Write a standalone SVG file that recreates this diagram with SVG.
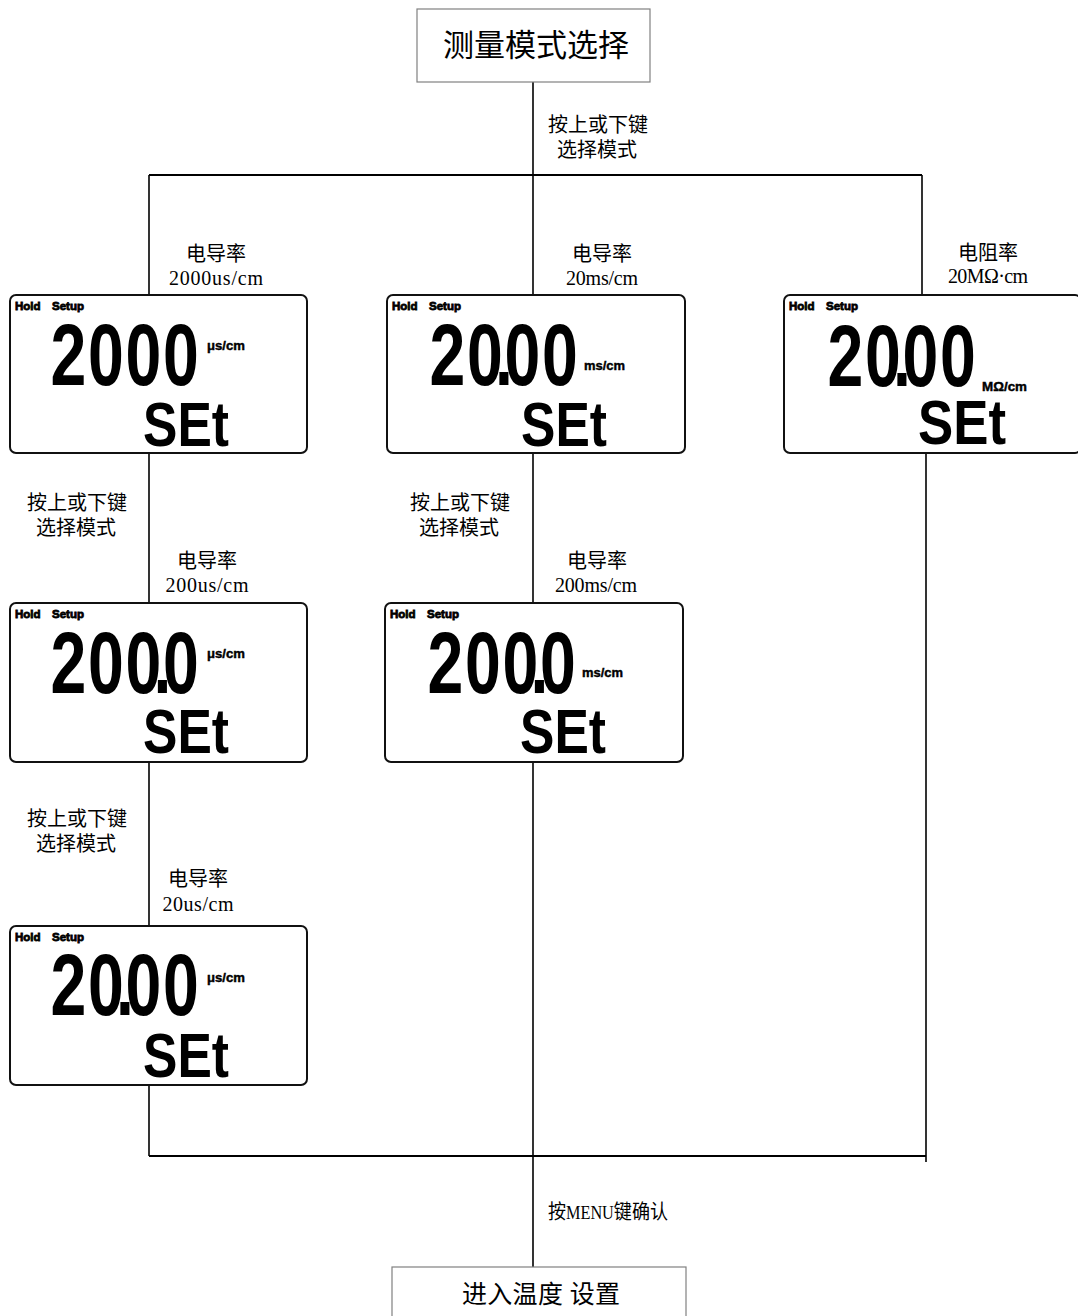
<svg xmlns="http://www.w3.org/2000/svg" width="1078" height="1316" viewBox="0 0 1078 1316">
<style>
.bg{fill:#fff}
.plain{fill:#fff;stroke:#808080;stroke-width:1.2}
.lcd{fill:#fff;stroke:#111;stroke-width:2}
.ln{stroke:#000;stroke-width:1.6;fill:none}
.lnh{stroke:#000;stroke-width:2;fill:none}
.lbl{font-family:"Liberation Serif","Noto Sans CJK SC",serif;font-size:20px;fill:#000}
.title{font-family:"Liberation Serif","Noto Sans CJK SC",serif;font-size:31px;fill:#000;text-anchor:middle}
.title2{font-family:"Liberation Serif","Noto Sans CJK SC",serif;font-size:25px;fill:#000}
.mid{text-anchor:middle}
.hs{font-family:"Liberation Sans",Arial,sans-serif;font-weight:bold;font-size:11.5px;fill:#000;stroke:#000;stroke-width:0.8}
.dig{font-family:"Liberation Sans",Arial,sans-serif;font-weight:bold;font-size:87px;fill:#000}
.set{font-family:"Liberation Sans",Arial,sans-serif;font-weight:bold;font-size:63px;fill:#000}
.unit{font-family:"Liberation Sans",Arial,sans-serif;font-weight:bold;font-size:12px;fill:#000;stroke:#000;stroke-width:0.4}
</style>
<rect class="bg" x="0" y="0" width="1078" height="1316"/>

<g id="connectors">
<line class="ln" x1="533" y1="82" x2="533" y2="175"/>
<line class="lnh" x1="149" y1="175" x2="922" y2="175"/>
<line class="ln" x1="149" y1="175" x2="149" y2="295"/>
<line class="ln" x1="533" y1="175" x2="533" y2="295"/>
<line class="ln" x1="922" y1="175" x2="922" y2="295"/>
<line class="ln" x1="149" y1="453" x2="149" y2="603"/>
<line class="ln" x1="533" y1="453" x2="533" y2="603"/>
<line class="ln" x1="149" y1="762" x2="149" y2="926"/>
<line class="ln" x1="533" y1="762" x2="533" y2="1268"/>
<line class="ln" x1="149" y1="1085" x2="149" y2="1156"/>
<line class="ln" x1="926" y1="453" x2="926" y2="1162"/>
<line class="lnh" x1="149" y1="1156" x2="926" y2="1156"/>
</g>

<g id="labels">
<text class="lbl mid" x="598" y="132">按上或下键</text>
<text class="lbl mid" x="597" y="157">选择模式</text>
<text class="lbl mid" x="216" y="261">电导率</text>
<text class="lbl mid" x="216" y="285" textLength="94">2000us/cm</text>
<text class="lbl mid" x="602" y="261">电导率</text>
<text class="lbl mid" x="602" y="285" textLength="72">20ms/cm</text>
<text class="lbl mid" x="988" y="260">电阻率</text>
<text class="lbl mid" x="988" y="283" textLength="80">20MΩ·cm</text>
<text class="lbl mid" x="77" y="510">按上或下键</text>
<text class="lbl mid" x="76" y="535">选择模式</text>
<text class="lbl mid" x="207" y="568">电导率</text>
<text class="lbl mid" x="207" y="592" textLength="83">200us/cm</text>
<text class="lbl mid" x="460" y="510">按上或下键</text>
<text class="lbl mid" x="459" y="535">选择模式</text>
<text class="lbl mid" x="597" y="568">电导率</text>
<text class="lbl mid" x="596" y="592" textLength="82">200ms/cm</text>
<text class="lbl mid" x="77" y="826">按上或下键</text>
<text class="lbl mid" x="76" y="851">选择模式</text>
<text class="lbl mid" x="198" y="886">电导率</text>
<text class="lbl mid" x="198" y="911" textLength="71">20us/cm</text>
<text class="lbl" x="548" y="1219" textLength="120" lengthAdjust="spacingAndGlyphs">按<tspan font-size="18">MENU</tspan>键确认</text>
</g>

<g id="node-mode-select">
<rect class="plain" x="417" y="9" width="233" height="73"/>
<text class="title" x="536" y="56">测量模式选择</text>
</g>

<g id="node-2000us" transform="translate(10,295)">
<rect class="lcd" x="0" y="0" width="297" height="158" rx="6"/>
<text class="hs" y="15"><tspan x="5">Hold</tspan><tspan x="42">Setup</tspan></text>
<text class="dig" transform="translate(40.4,90) scale(0.74,1)" x="0 50.7 101.4 152.1">2000</text>
<text class="unit" x="197" y="55" textLength="38" lengthAdjust="spacingAndGlyphs">μs/cm</text>
<text class="set" x="133" y="151" textLength="86" lengthAdjust="spacingAndGlyphs">SEt</text>
</g>

<g id="node-20ms" transform="translate(387,295)">
<rect class="lcd" x="0" y="0" width="298" height="158" rx="6"/>
<text class="hs" y="15"><tspan x="5">Hold</tspan><tspan x="42">Setup</tspan></text>
<text class="dig" transform="translate(42.4,90) scale(0.74,1)" x="0 50.7 88.7 101.4 152.1">20.00</text>
<text class="unit" x="197" y="75" textLength="41" lengthAdjust="spacingAndGlyphs">ms/cm</text>
<text class="set" x="134" y="151" textLength="86" lengthAdjust="spacingAndGlyphs">SEt</text>
</g>

<g id="node-20Mohm" transform="translate(784,295)">
<rect class="lcd" x="0" y="0" width="297" height="158" rx="6"/>
<text class="hs" y="15"><tspan x="5">Hold</tspan><tspan x="42">Setup</tspan></text>
<text class="dig" transform="translate(43.4,91) scale(0.74,1)" x="0 50.7 88.7 101.4 152.1">20.00</text>
<text class="unit" x="198" y="96" textLength="45" lengthAdjust="spacingAndGlyphs">MΩ/cm</text>
<text class="set" x="134" y="149" textLength="88" lengthAdjust="spacingAndGlyphs">SEt</text>
</g>

<g id="node-200us" transform="translate(10,603)">
<rect class="lcd" x="0" y="0" width="297" height="159" rx="6"/>
<text class="hs" y="15"><tspan x="5">Hold</tspan><tspan x="42">Setup</tspan></text>
<text class="dig" transform="translate(40.4,90) scale(0.74,1)" x="0 50.7 101.4 139.4 152.1">200.0</text>
<text class="unit" x="197" y="55" textLength="38" lengthAdjust="spacingAndGlyphs">μs/cm</text>
<text class="set" x="133" y="150" textLength="86" lengthAdjust="spacingAndGlyphs">SEt</text>
</g>

<g id="node-200ms" transform="translate(385,603)">
<rect class="lcd" x="0" y="0" width="298" height="159" rx="6"/>
<text class="hs" y="15"><tspan x="5">Hold</tspan><tspan x="42">Setup</tspan></text>
<text class="dig" transform="translate(42.4,90) scale(0.74,1)" x="0 50.7 101.4 139.4 152.1">200.0</text>
<text class="unit" x="197" y="74" textLength="41" lengthAdjust="spacingAndGlyphs">ms/cm</text>
<text class="set" x="135" y="150" textLength="86" lengthAdjust="spacingAndGlyphs">SEt</text>
</g>

<g id="node-20us" transform="translate(10,926)">
<rect class="lcd" x="0" y="0" width="297" height="159" rx="6"/>
<text class="hs" y="15"><tspan x="5">Hold</tspan><tspan x="42">Setup</tspan></text>
<text class="dig" transform="translate(40.4,89) scale(0.74,1)" x="0 50.7 88.7 101.4 152.1">20.00</text>
<text class="unit" x="197" y="56" textLength="38" lengthAdjust="spacingAndGlyphs">μs/cm</text>
<text class="set" x="133" y="151" textLength="86" lengthAdjust="spacingAndGlyphs">SEt</text>
</g>

<g id="node-temp-setup">
<rect class="plain" x="392" y="1267" width="294" height="60"/>
<text class="title2" x="462" y="1303" textLength="158">进入温度 设置</text>
</g>
</svg>
